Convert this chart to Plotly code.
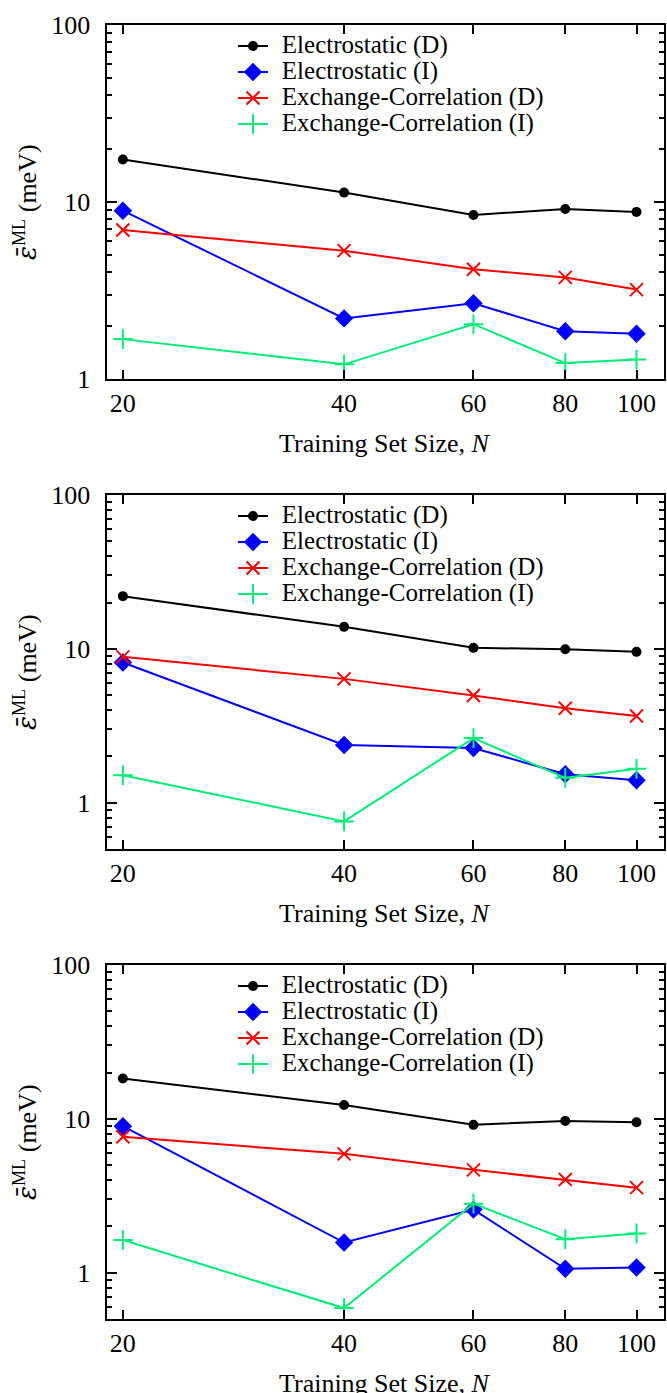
import math
import plotly.graph_objects as go

# ---------------- data ----------------
N = [20, 40, 60, 80, 100]
x_tick_labels = ["20", "40", "60", "80", "100"]
y_tick_vals = [1, 10, 100]
y_tick_labels = ["1", "10", "100"]
y_minor_vals = [0.5, 0.6, 0.7, 0.8, 0.9, 2, 3, 4, 5, 6, 7, 8, 9,
                20, 30, 40, 50, 60, 70, 80, 90]

series_names = ["Electrostatic (D)", "Electrostatic (I)",
                "Exchange-Correlation (D)", "Exchange-Correlation (I)"]

# panel 1 (top)
p1_elec_d = [17.4, 11.3, 8.45, 9.13, 8.79]
p1_elec_i = [8.93, 2.20, 2.68, 1.86, 1.80]
p1_xc_d = [6.95, 5.31, 4.17, 3.75, 3.20]
p1_xc_i = [1.68, 1.21, 2.04, 1.23, 1.29]

# panel 2 (middle)
p2_elec_d = [22.0, 13.9, 10.15, 9.95, 9.56]
p2_elec_i = [8.15, 2.37, 2.27, 1.53, 1.40]
p2_xc_d = [8.87, 6.38, 4.97, 4.11, 3.66]
p2_xc_i = [1.51, 0.756, 2.63, 1.45, 1.66]

# panel 3 (bottom)
p3_elec_d = [18.3, 12.3, 9.14, 9.70, 9.51]
p3_elec_i = [8.96, 1.57, 2.57, 1.06, 1.08]
p3_xc_d = [7.64, 5.92, 4.66, 4.03, 3.57]
p3_xc_i = [1.63, 0.589, 2.81, 1.65, 1.80]

panels = [
    [p1_elec_d, p1_elec_i, p1_xc_d, p1_xc_i],
    [p2_elec_d, p2_elec_i, p2_xc_d, p2_xc_i],
    [p3_elec_d, p3_elec_i, p3_xc_d, p3_xc_i],
]
y_ranges = [[0, 2], [math.log10(0.5), 2], [math.log10(0.5), 2]]

# ---------------- styles ----------------
colors = ["#000000", "#0000ff", "#ff0000", "#00ee77"]
symbols = ["circle", "diamond", "x-thin", "cross-thin"]
msizes = [8, 12, 13, 14]

W, H = 667, 1393
FONT = "Liberation Serif, Times New Roman, serif"
FS = 26
LEG_FS = 17.7

# panel pixel positions (top, bottom) of plot areas
panel_px = [(25, 379), (495, 849), (965, 1319)]
x_left_px, x_right_px = 106.5, 664

fig = go.Figure()
legend_names = ["legend", "legend2", "legend3"]

for p, data in enumerate(panels):
    sfx = "" if p == 0 else str(p + 1)
    for k, vals in enumerate(data):
        fig.add_trace(go.Scatter(
            x=N, y=vals, mode="lines+markers",
            name="\u2002<span style=\"font-size:25px\">%s</span>" % series_names[k],
            line=dict(color=colors[k], width=2),
            marker=dict(color=colors[k], symbol=symbols[k], size=msizes[k],
                        line=dict(color=colors[k], width=2)),
            xaxis="x" + sfx, yaxis="y" + sfx,
            legend=legend_names[p], showlegend=True,
        ))

layout = dict(
    width=W, height=H,
    margin=dict(l=0, r=0, t=0, b=0, autoexpand=False),
    paper_bgcolor="white", plot_bgcolor="white",
    font=dict(family=FONT, size=FS, color="black"),
    showlegend=True,
)

annotations = []
for p in range(3):
    sfx = "" if p == 0 else str(p + 1)
    top, bot = panel_px[p]
    layout["xaxis" + sfx] = dict(
        type="log", range=[math.log10(19), math.log10(109)],
        domain=[x_left_px / W, x_right_px / W],
        anchor="y" + sfx,
        tickmode="array", tickvals=N, ticktext=x_tick_labels,
        ticks="inside", ticklen=9, tickwidth=2, tickcolor="black",
        showline=True, linewidth=2, linecolor="black", mirror="allticks",
        showgrid=False, zeroline=False,
        tickfont=dict(family=FONT, size=FS, color="black"),
        ticklabelstandoff=0,
    )
    layout["yaxis" + sfx] = dict(
        type="log", range=y_ranges[p],
        domain=[1 - bot / H, 1 - top / H],
        anchor="x" + sfx,
        tickmode="array", tickvals=y_tick_vals, ticktext=y_tick_labels,
        ticks="inside", ticklen=10, tickwidth=2, tickcolor="black",
        minor=dict(tickmode="array", tickvals=y_minor_vals, ticks="inside",
                   ticklen=5, tickwidth=2, tickcolor="black", showgrid=False),
        showline=True, linewidth=2, linecolor="black", mirror="allticks",
        showgrid=False, zeroline=False,
        tickfont=dict(family=FONT, size=FS, color="black"),
        ticklabelstandoff=9,
    )
    layout[legend_names[p]] = dict(
        x=233 / W, xanchor="left",
        y=1 - (top + 3) / H, yanchor="top",
        bgcolor="rgba(0,0,0,0)", borderwidth=0,
        font=dict(family=FONT, size=LEG_FS, color="black"),
        itemsizing="trace",
    )
    # x axis title
    annotations.append(dict(
        text="Training Set Size, <i>N</i>",
        xref="paper", yref="paper",
        x=(x_left_px + x_right_px) / 2 / W, y=1 - (bot + 64) / H,
        xanchor="center", yanchor="middle", showarrow=False,
        font=dict(family=FONT, size=FS, color="black"),
    ))
    # y axis title
    annotations.append(dict(
        text="<span style=\"font-family:DejaVu Serif\"><i>\u03b5\u0304</i></span>"
             "<sup>ML</sup> (meV)",
        xref="paper", yref="paper",
        x=25 / W, y=1 - ((top + bot) / 2) / H,
        xanchor="center", yanchor="middle", showarrow=False, textangle=-90,
        font=dict(family=FONT, size=FS, color="black"),
    ))

layout["annotations"] = annotations
fig.update_layout(**layout)
fig.write_html("out.html",
               config={"displayModeBar": False},
               post_script="document.body.style.margin='0px';")
